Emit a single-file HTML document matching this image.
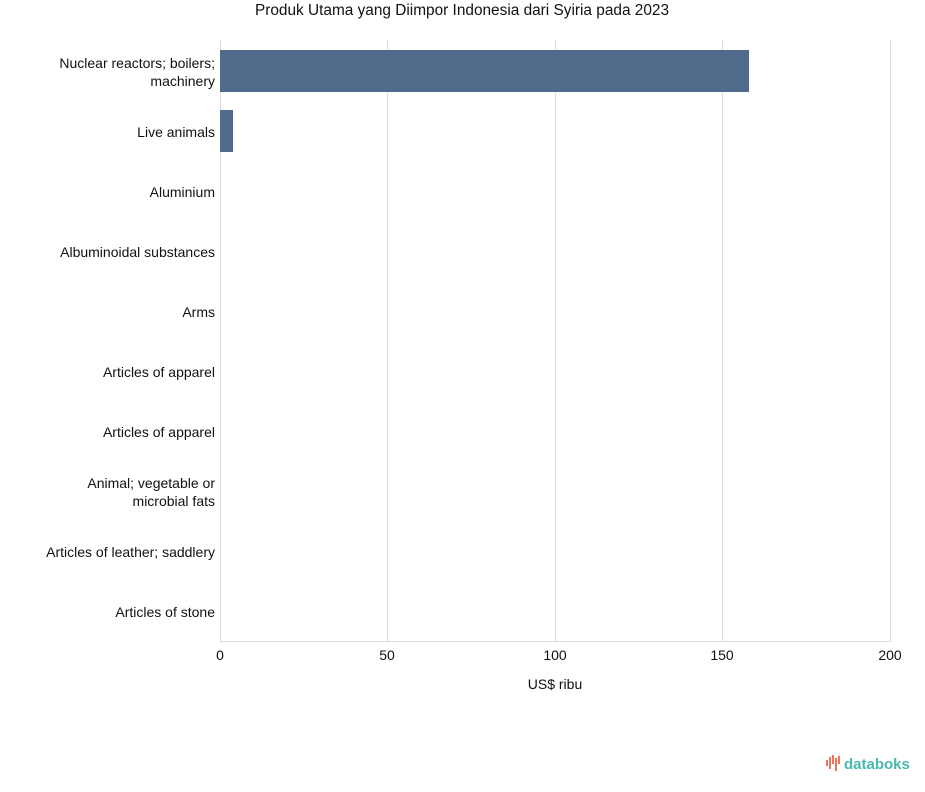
<!DOCTYPE html>
<html><head><meta charset="utf-8"><style>
body{margin:0;background:#fff;width:925px;height:792px;overflow:hidden}
svg{display:block}
text{font-family:"Liberation Sans",sans-serif;fill:#111}
</style></head><body>
<svg width="925" height="792" xmlns="http://www.w3.org/2000/svg">
<text x="462" y="15" text-anchor="middle" font-size="15.4">Produk Utama yang Diimpor Indonesia dari Syiria pada 2023</text>
<g stroke="#dddddd" stroke-width="1">
<line x1="220.5" y1="40" x2="220.5" y2="641"/>
<line x1="387.5" y1="40" x2="387.5" y2="641"/>
<line x1="555.5" y1="40" x2="555.5" y2="641"/>
<line x1="722.5" y1="40" x2="722.5" y2="641"/>
<line x1="890.5" y1="40" x2="890.5" y2="641"/>
<line x1="220" y1="641.5" x2="891" y2="641.5"/>
</g>
<rect x="220" y="50" width="529" height="42" fill="#4f6a8b"/>
<rect x="220" y="110" width="13" height="42" fill="#4f6a8b"/>
<g font-size="14" text-anchor="end">
<text x="215" y="68">Nuclear reactors; boilers;</text>
<text x="215" y="86">machinery</text>
<text x="215" y="137">Live animals</text>
<text x="215" y="197">Aluminium</text>
<text x="215" y="257">Albuminoidal substances</text>
<text x="215" y="317">Arms</text>
<text x="215" y="377">Articles of apparel</text>
<text x="215" y="437">Articles of apparel</text>
<text x="215" y="488">Animal; vegetable or</text>
<text x="215" y="506">microbial fats</text>
<text x="215" y="557">Articles of leather; saddlery</text>
<text x="215" y="617">Articles of stone</text>
</g>
<g font-size="14" text-anchor="middle">
<text x="220" y="660">0</text>
<text x="387" y="660">50</text>
<text x="555" y="660">100</text>
<text x="722" y="660">150</text>
<text x="890" y="660">200</text>
<text x="555" y="689">US$ ribu</text>
</g>
<g fill="#f0735a">
<rect x="826" y="760" width="2" height="6"/>
<rect x="829" y="757" width="2" height="12"/>
<rect x="832" y="755" width="2" height="9"/>
<rect x="835" y="758" width="2" height="13"/>
<rect x="838" y="756" width="2" height="8"/>
</g>
<text x="844" y="769" font-size="15" font-weight="bold" style="fill:#4bb8b0">databoks</text>
</svg>
</body></html>
